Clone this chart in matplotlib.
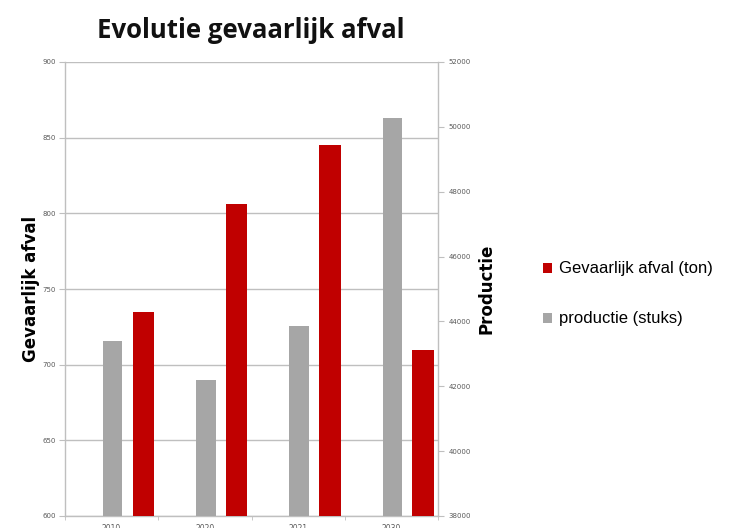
import numpy as np
import matplotlib
matplotlib.use("Agg")
import matplotlib.pyplot as plt
from matplotlib.patches import Patch
from matplotlib.ticker import MultipleLocator, FixedLocator

years = ["2010", "2020", "2021", "2030"]
afval_ton = [735, 806, 845, 710]
productie_stuks = [43400, 42200, 43850, 50270]

red = "#C00000"
grey = "#A6A6A6"
axis_grey = "#BFBFBF"
tick_col = "#595959"

fig = plt.figure(figsize=(7.32, 5.28), dpi=100)
ax = fig.add_axes([65 / 732, 1 - 516 / 528, (438 - 65) / 732, (516 - 62) / 528])
ax2 = ax.twinx()

x = np.arange(len(years))
ax.bar(x + 0.34, afval_ton, width=0.23, color=red, zorder=3)
ax2.bar(x + 0.01, productie_stuks, width=0.21, color=grey, zorder=3)

ax.set_xlim(-0.5, len(years) - 0.5)
ax.set_ylim(600, 900)
ax2.set_ylim(38000, 52000)
ax.yaxis.set_major_locator(MultipleLocator(50))
ax2.yaxis.set_major_locator(MultipleLocator(2000))

ax.grid(axis="y", color=axis_grey, linewidth=1.0, zorder=0)
ax.set_axisbelow(True)

for a in (ax, ax2):
    a.spines["top"].set_visible(False)
    for s in ("left", "right", "bottom"):
        a.spines[s].set_color(axis_grey)
        a.spines[s].set_linewidth(1.0)

ax.spines["right"].set_visible(False)
ax2.spines["left"].set_visible(False)
ax2.spines["bottom"].set_visible(False)

ax.set_xticks(x)
ax.set_xticklabels(years)
ax.xaxis.set_minor_locator(FixedLocator(np.arange(-0.5, len(years), 1.0)))
ax.tick_params(axis="x", which="major", length=0, pad=5.5, labelsize=5.5, labelcolor=tick_col)
ax.tick_params(axis="x", which="minor", length=3, color=axis_grey, direction="out")
ax.tick_params(axis="y", length=4, color=axis_grey, labelsize=5, labelcolor=tick_col, pad=2.5)
ax2.tick_params(axis="y", length=4, color=axis_grey, labelsize=5, labelcolor=tick_col, pad=3.5)

ax.set_ylabel("Gevaarlijk afval", fontsize=12, fontweight="bold", labelpad=2)
ax2.set_ylabel("Productie", fontsize=12, fontweight="bold", labelpad=5)

fig.text(251 / 732, 1 - 31 / 528, "Evolutie gevaarlijk afval", fontsize=18.5,
         fontweight="bold", family="Open Sans", ha="center", va="center", color="#111111")

handles = [Patch(facecolor=red, edgecolor="none"), Patch(facecolor=grey, edgecolor="none")]
labels = ["Gevaarlijk afval (ton)", "productie (stuks)"]
fig.legend(handles, labels, loc="center left", bbox_to_anchor=(528 / 732, 1 - 294 / 528),
           frameon=False, prop={"family": "Liberation Sans", "size": 12},
           handlelength=0.55, handleheight=0.55, handletextpad=0.4, labelspacing=2.1)

fig.savefig("out.png", dpi=100)
